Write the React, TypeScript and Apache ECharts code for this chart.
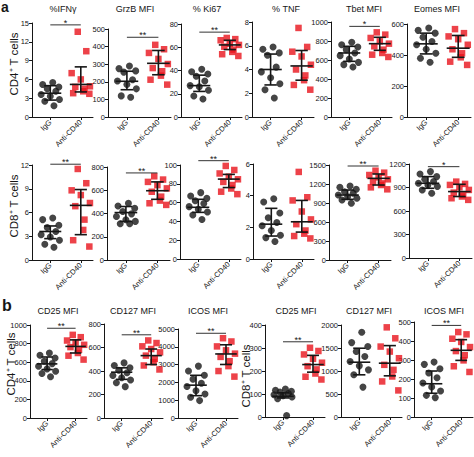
import { useEffect, useRef } from "react";
import * as echarts from "echarts";

// ---------- categories / titles ----------
const categories = ["IgG", "Anti-CD40"];
const titlesA = ["%IFNγ", "GrzB MFI", "% Ki67", "% TNF", "Tbet MFI", "Eomes MFI"];
const titlesB = ["CD25 MFI", "CD127 MFI", "ICOS MFI", "CD25 MFI", "CD127 MFI", "ICOS MFI"];

// ---------- y axes ----------
const maxA4 = [15, 500, 80, 8, 1000, 600];
const stepA4 = [3, 100, 20, 2, 200, 200];
const maxA8 = [12, 800, 100, 6, 1500, 1200];
const stepA8 = [3, 200, 20, 2, 300, 300];
const maxB = [1000, 800, 5000, 400, 2000, 500];
const stepB = [200, 200, 1000, 100, 500, 100];

// ---------- panel a, CD4+ T cells ----------
const a4IfngIgG = [5.5, 5.2, 4.8, 4.5, 4.1, 3.6, 3.3, 2.8, 2.5, 1.8];
const a4IfngAnti = [13.6, 10.5, 7.0, 6.0, 4.9, 4.8, 4.5, 4.1, 3.8, 3.7];
const a4GrzbIgG = [290, 275, 262, 255, 212, 205, 185, 160, 120, 112];
const a4GrzbAnti = [410, 385, 364, 330, 301, 278, 260, 235, 212, 184];
const a4Ki67IgG = [41, 39, 37, 35, 31, 27, 26, 23, 18, 15.5];
const a4Ki67Anti = [68, 67, 66, 63, 62, 60.5, 58, 56, 54, 52.5];
const a4TnfIgG = [5.9, 5.7, 5.4, 5.2, 4.2, 3.8, 3.3, 2.8, 2.3, 1.6];
const a4TnfAnti = [7.5, 5.9, 5.5, 5.1, 4.4, 4.0, 3.5, 3.1, 2.7, 2.3];
const a4TbetIgG = [786, 761, 737, 709, 674, 646, 611, 575, 551, 526];
const a4TbetAnti = [891, 867, 832, 796, 772, 744, 709, 674, 656, 632];
const a4EomesIgG = [574, 559, 541, 515, 487, 466, 437, 411, 379, 353];
const a4EomesAnti = [567, 541, 520, 502, 466, 437, 411, 385, 357, 336];
// [mean, low, high]
const a4StatIgG = [[3.8, 2.7, 5.0], [203, 155, 260], [27, 22, 36], [4.0, 2.7, 5.3], [674, 586, 744], [472, 407, 541]];
const a4StatAnti = [[5.2, 4.0, 8.0], [305, 240, 378], [62, 58, 66], [4.3, 3.1, 5.6], [772, 702, 839], [444, 385, 526]];
const a4Sig = ["*", "**", "**", "", "*", ""];
const a4SigLevel = [14.7, 453, 73, 0, 954, 0];

// ---------- panel a, CD8+ T cells ----------
const a8IfngIgG = [5.3, 5.1, 4.4, 4.1, 3.6, 3.2, 2.9, 2.5, 2.0, 1.6];
const a8IfngAnti = [11.5, 9.7, 8.8, 8.2, 7.2, 6.8, 5.1, 3.8, 2.5, 1.7];
const a8GrzbIgG = [488, 465, 445, 417, 397, 374, 346, 332, 312, 312];
const a8GrzbAnti = [720, 692, 672, 644, 616, 587, 545, 511, 488, 474];
const a8Ki67IgG = [70.6, 67, 64.5, 62, 59, 55.7, 52.8, 50, 46.8, 42];
const a8Ki67Anti = [99, 94.7, 91, 87.6, 84.8, 82, 78.7, 75, 71.6, 69];
const a8TnfIgG = [3.8, 3.6, 2.9, 2.6, 2.3, 2.1, 1.8, 1.5, 1.35, 1.1];
const a8TnfAnti = [5.5, 3.9, 3.7, 3.0, 2.5, 2.2, 1.8, 1.6, 1.45, 1.3];
const a8TbetIgG = [1168, 1147, 1116, 1079, 1053, 1026, 1000, 974, 947, 895];
const a8TbetAnti = [1410, 1379, 1342, 1305, 1274, 1237, 1210, 1184, 1147, 1116];
const a8EomesIgG = [1103, 1073, 1039, 1005, 975, 954, 933, 912, 869, 827];
const a8EomesAnti = [975, 946, 933, 903, 869, 835, 806, 785, 763, 742];
const a8StatIgG = [[3.6, 2.7, 4.3], [408, 332, 460], [55, 49.6, 63.5], [2.2, 1.45, 3.2], [1026, 958, 1105], [954, 890, 1039]];
const a8StatAnti = [[6.9, 3.2, 8.9], [596, 522, 672], [85, 76, 90], [2.35, 1.7, 3.7], [1289, 1184, 1358], [848, 785, 941]];
const a8Sig = ["**", "**", "**", "", "**", "*"];
const a8SigLevel = [12.1, 749, 104.6, 0, 1484, 1166];

// ---------- panel b ----------
const bCd4Cd25IgG = [699, 674, 645, 610, 585, 557, 528, 503, 479, 443];
const bCd4Cd25Anti = [894, 869, 833, 812, 787, 762, 734, 699, 670, 628];
const bCd4Cd127IgG = [469, 447, 427, 407, 385, 362, 343, 323, 300, 267];
const bCd4Cd127Anti = [660, 638, 610, 587, 559, 531, 503, 475, 447, 413];
const bCd4IcosIgG = [2915, 2638, 2398, 2177, 1955, 1771, 1531, 1347, 1162, 978];
const bCd4IcosAnti = [4483, 4299, 4022, 3801, 3616, 3432, 3192, 2915, 2638, 2325];
const bCd8Cd25IgG = [122, 116, 112, 108, 102, 97, 93, 87, 79, 6];
const bCd8Cd25Anti = [301, 287, 272, 253, 236, 221, 207, 189, 175, 163];
const bCd8Cd127IgG = [1841, 1617, 1531, 1422, 1314, 1206, 1112, 1025, 917, 650];
const bCd8Cd127Anti = [1949, 1711, 1531, 1422, 1278, 1134, 1025, 881, 773, 578];
const bCd8IcosIgG = [289, 277, 254, 232, 207, 179, 158, 137, 114, 102];
const bCd8IcosAnti = [447, 435, 412, 395, 368, 347, 325, 298, 267, 237];
const bStatIgG = [[582, 521, 656], [390, 329, 427], [1845, 1255, 2398], [90, 83, 105], [1191, 917, 1495], [175, 125, 242]];
const bStatAnti = [[770, 699, 840], [531, 455, 587], [3598, 3007, 4114], [228, 195, 268], [1170, 895, 1552], [351, 298, 407]];
const bSig = ["**", "**", "**", "**", "", "**"];
const bSigLevel = [965, 708, 4760, 327, 0, 482];

// ---------- layout (style, not data) ----------
const jitter = [0.08, -0.25, 0.28, -0.1, 0.18, -0.3, 0.0, 0.3, -0.18, 0.12];
// [left, top, width, bottom]
const layoutA4 = [[32, 23, 61, 117], [108, 29, 63, 117], [181, 24, 61, 117], [252, 22, 62, 117], [331, 22, 61, 117], [407, 24, 64, 117]];
const layoutA8 = [[32, 165, 61, 260], [107, 167, 63, 260], [180, 165, 61, 259], [253, 164, 61, 259], [329, 165, 62, 260], [409, 164, 63, 258]];
const layoutB = [[30, 325, 57, 418], [104, 324, 59, 418], [178, 329, 60, 418], [265, 325, 60, 417], [341, 325, 61, 417], [414, 322, 59, 417]];
const titleXA = [63, 135, 207, 286, 364, 437];
const titleXB = [58, 133, 208, 296, 369, 444];

const FONT = "'Liberation Sans', Arial, Helvetica, sans-serif";
const INK = "#161616";
const RED = "#e8131c";

type Panel = {
  title: string; max: number; step: number;
  igg: number[]; anti: number[];
  iggStat: number[]; antiStat: number[];
  sig: string; sigLevel: number;
  layout: number[]; titleX: number; titleY: number;
};

function makePanels(titles: string[], maxes: number[], steps: number[], iggs: number[][], antis: number[][],
  iggStats: number[][], antiStats: number[][], sigs: string[], sigLevels: number[], layouts: number[][],
  titleX: number[] | null, titleY: number): Panel[] {
  return titles.map((t, i) => ({
    title: t, max: maxes[i], step: steps[i], igg: iggs[i], anti: antis[i],
    iggStat: iggStats[i], antiStat: antiStats[i], sig: sigs[i], sigLevel: sigLevels[i],
    layout: layouts[i], titleX: titleX ? titleX[i] : 0, titleY,
  }));
}

const panels: Panel[] = [
  ...makePanels(titlesA, maxA4, stepA4,
    [a4IfngIgG, a4GrzbIgG, a4Ki67IgG, a4TnfIgG, a4TbetIgG, a4EomesIgG],
    [a4IfngAnti, a4GrzbAnti, a4Ki67Anti, a4TnfAnti, a4TbetAnti, a4EomesAnti],
    a4StatIgG, a4StatAnti, a4Sig, a4SigLevel, layoutA4, titleXA, 9),
  ...makePanels(titlesA.map(() => ""), maxA8, stepA8,
    [a8IfngIgG, a8GrzbIgG, a8Ki67IgG, a8TnfIgG, a8TbetIgG, a8EomesIgG],
    [a8IfngAnti, a8GrzbAnti, a8Ki67Anti, a8TnfAnti, a8TbetAnti, a8EomesAnti],
    a8StatIgG, a8StatAnti, a8Sig, a8SigLevel, layoutA8, null, 0),
  ...makePanels(titlesB, maxB, stepB,
    [bCd4Cd25IgG, bCd4Cd127IgG, bCd4IcosIgG, bCd8Cd25IgG, bCd8Cd127IgG, bCd8IcosIgG],
    [bCd4Cd25Anti, bCd4Cd127Anti, bCd4IcosAnti, bCd8Cd25Anti, bCd8Cd127Anti, bCd8IcosAnti],
    bStatIgG, bStatAnti, bSig, bSigLevel, layoutB, titleXB, 311),
];

const errorRender = (_params: any, api: any) => {
  const x = api.value(0);
  const m = api.value(1);
  const lo = api.value(2);
  const hi = api.value(3);
  const ml = api.coord([x - 0.36, m]);
  const mr = api.coord([x + 0.36, m]);
  const top = api.coord([x, hi]);
  const bot = api.coord([x, lo]);
  const capL = api.coord([x - 0.2, hi])[0];
  const capR = api.coord([x + 0.2, hi])[0];
  const st = { stroke: INK, lineWidth: 1.6 };
  return {
    type: "group",
    children: [
      { type: "line", shape: { x1: ml[0], y1: ml[1], x2: mr[0], y2: mr[1] }, style: st },
      { type: "line", shape: { x1: top[0], y1: top[1], x2: bot[0], y2: bot[1] }, style: st },
      { type: "line", shape: { x1: capL, y1: top[1], x2: capR, y2: top[1] }, style: st },
      { type: "line", shape: { x1: capL, y1: bot[1], x2: capR, y2: bot[1] }, style: st },
    ],
  };
};

const makeSigRender = (label: string) => (_params: any, api: any) => {
  const p1 = api.coord([api.value(0), api.value(2)]);
  const p2 = api.coord([api.value(1), api.value(2)]);
  return {
    type: "group",
    children: [
      { type: "line", shape: { x1: p1[0], y1: p1[1], x2: p2[0], y2: p2[1] }, style: { stroke: "#333", lineWidth: 1 } },
      {
        type: "text",
        x: (p1[0] + p2[0]) / 2,
        y: p1[1] - 2,
        style: { text: label, fill: INK, fontSize: 9, fontFamily: FONT, textAlign: "center", textVerticalAlign: "middle" },
      },
    ],
  };
};

function buildOption() {
  const grid: any[] = [];
  const xAxis: any[] = [];
  const yAxis: any[] = [];
  const series: any[] = [];
  const graphic: any[] = [];

  panels.forEach((p, i) => {
    const [left, top, width, bottom] = p.layout;
    grid.push({ left, top, width, height: bottom - top, containLabel: false, outerBoundsMode: "none" });
    xAxis.push({
      gridIndex: i, type: "value", min: 0.4, max: 2.4,
      axisLine: { show: true, onZero: false, lineStyle: { color: INK, width: 1 } },
      splitLine: { show: false },
      axisTick: { show: true, customValues: [1, 2], length: 3, lineStyle: { color: INK } },
      axisLabel: {
        show: true, customValues: [1, 2], rotate: 45, fontSize: 7.5, color: INK, fontFamily: FONT, margin: 4,
        formatter: (v: number) => categories[Math.round(v) - 1] ?? "",
      },
    });
    yAxis.push({
      gridIndex: i, type: "value", min: 0, max: p.max, interval: p.step,
      axisLine: { show: true, lineStyle: { color: INK, width: 1 } },
      splitLine: { show: false },
      axisTick: { show: true, length: 3, lineStyle: { color: INK } },
      axisLabel: { fontSize: 7.5, color: INK, fontFamily: FONT, margin: 3, formatter: (v: number) => String(v) },
    });
    series.push({
      type: "scatter", xAxisIndex: i, yAxisIndex: i, symbol: "circle", symbolSize: 7,
      itemStyle: { color: INK }, clip: false, silent: true,
      data: p.igg.map((v, k) => [1 + jitter[k], v]),
    });
    series.push({
      type: "scatter", xAxisIndex: i, yAxisIndex: i, symbol: "rect", symbolSize: 6.5,
      itemStyle: { color: RED }, clip: false, silent: true,
      data: p.anti.map((v, k) => [2 + jitter[(k + 3) % jitter.length], v]),
    });
    series.push({
      type: "custom", xAxisIndex: i, yAxisIndex: i, renderItem: errorRender, clip: false, silent: true, z: 5,
      encode: { x: 0, y: 1 },
      data: [[1, ...p.iggStat], [2, ...p.antiStat]],
    });
    if (p.sig) {
      series.push({
        type: "custom", xAxisIndex: i, yAxisIndex: i, renderItem: makeSigRender(p.sig), clip: false, silent: true, z: 5,
        encode: { x: [0, 1], y: 2 },
        data: [[1, 2, p.sigLevel]],
      });
    }
    if (p.title) {
      graphic.push({
        type: "text", x: p.titleX, y: p.titleY,
        style: { text: p.title, fill: INK, fontSize: 9, fontFamily: FONT, textAlign: "center", textVerticalAlign: "middle" },
      });
    }
  });

  const yName = (text: string, x: number, y: number) => ({
    type: "text", x, y, rotation: Math.PI / 2,
    style: { text, fill: INK, fontSize: 11.5, fontFamily: FONT, textAlign: "center", textVerticalAlign: "middle" },
  });
  graphic.push(yName("CD4⁺ T cells", 14, 64));
  graphic.push(yName("CD8⁺ T cells", 14, 206));
  graphic.push(yName("CD4⁺ T cells", 11, 364));
  graphic.push(yName("CD8⁺ T cells", 246, 376));
  graphic.push({
    type: "text", x: 1, y: 0,
    style: { text: "a", fill: INK, fontSize: 14, fontWeight: "bold", fontFamily: FONT, textAlign: "left", textVerticalAlign: "top" },
  });
  graphic.push({
    type: "text", x: 2, y: 313,
    style: { text: "b", fill: INK, fontSize: 16, fontWeight: "bold", fontFamily: FONT, textAlign: "left", textVerticalAlign: "bottom" },
  });

  return {
    animation: false,
    backgroundColor: "#ffffff",
    textStyle: { fontFamily: FONT },
    grid, xAxis, yAxis, series, graphic,
  };
}

export default function App() {
  const ref = useRef<HTMLDivElement>(null);
  useEffect(() => {
    document.body.style.margin = "0";
    if (!ref.current) return;
    const chart = echarts.init(ref.current, undefined, { renderer: "svg" });
    chart.setOption(buildOption() as any);
    return () => chart.dispose();
  }, []);
  return <div ref={ref} style={{ width: 474, height: 457 }} />;
}
